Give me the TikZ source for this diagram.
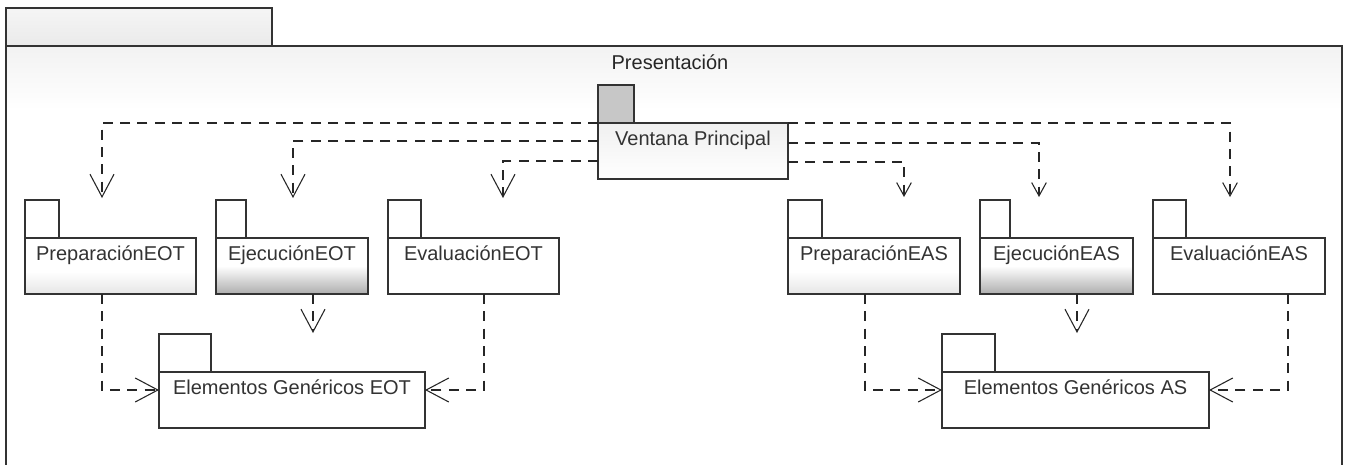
\documentclass[tikz,border=0pt]{standalone}
\usepackage{fontspec}
\setmainfont{Liberation Sans}
\usetikzlibrary{arrows.meta,calc}
\pgfdeclareverticalshading{pkgdark}{100bp}{color(0bp)=(black!32); color(25bp)=(black!32); color(50bp)=(white); color(100bp)=(white)}
\pgfdeclareverticalshading{pkglight}{100bp}{color(0bp)=(black!10); color(25bp)=(black!10); color(45bp)=(white); color(100bp)=(white)}
\tikzset{
  pkgline/.style={draw=black!80, line width=1.1pt},
  pkgbody/.style={pkgline, rectangle, inner sep=0pt, outer sep=0pt, text height=16.5pt, text depth=25.5pt, text=black!80},
  pkgtab/.style={pkgline, rectangle, inner sep=0pt, outer sep=0pt, fill=white, minimum height=28.5pt},
  lightshade/.style={shading=pkglight},
  darkshade/.style={shading=pkgdark},
  plain/.style={fill=white},
  dep/.style={draw=black!85, line width=0.8pt, dash pattern=on 7.5pt off 5.5pt},
  bigarr/.style={-{Straight Barb[length=17pt,width=18pt,line width=0.8pt]}},
  smallarr/.style={-{Straight Barb[length=10pt,width=11pt,line width=0.8pt]}}
}
\newcommand\pkgnode[7]{%
  \node[pkgbody,#7,minimum width=0.75*#4pt,anchor=north west] (#1) at (#2,#3) {#6};
  \node[pkgtab,minimum width=0.75*#5pt,anchor=south west] (#1-tab) at (#1.north west) {};}
\begin{document}
\begin{tikzpicture}[x=0.75pt,y=-0.75pt,font=\fontsize{15}{18}\selectfont]
\useasboundingbox (0,0) rectangle (1345,464);
\clip (0,0) rectangle (1345,464);
% outer package frame
\fill[white] (0,0) rectangle (1345,464);
\draw[pkgline, top color=black!4, bottom color=black!8] (6,8) rectangle (272,46);
\fill[top color=black!5, bottom color=white] (6,46) rectangle (1342,110);
\draw[pkgline] (6,46) rectangle (1342,480);
\node[anchor=base, text=black!85] (title) at (670,69) {Presentación};

% Ventana Principal
\node[pkgbody, top color=black!6, bottom color=white, minimum width=142.5pt, anchor=north west] (vp) at (598,123) {Ventana Principal};
\node[pkgtab, fill=black!22, minimum width=27pt, anchor=south west] (vp-tab) at (vp.north west) {};

% packages
\pkgnode{prepEOT}{25}{238}{171}{34}{PreparaciónEOT}{lightshade}
\pkgnode{ejEOT}{216}{238}{152}{30}{EjecuciónEOT}{darkshade}
\pkgnode{evEOT}{388}{238}{171}{33}{EvaluaciónEOT}{plain}
\pkgnode{geEOT}{159}{372}{266}{52}{Elementos Genéricos EOT}{plain}
\pkgnode{prepEAS}{788}{238}{172}{34}{PreparaciónEAS}{lightshade}
\pkgnode{ejEAS}{980}{238}{153}{30}{EjecuciónEAS}{darkshade}
\pkgnode{evEAS}{1153}{238}{172}{33}{EvaluaciónEAS}{plain}
\pkgnode{geAS}{942}{372}{267}{53}{Elementos Genéricos AS}{plain}

% arrow ends above packages
\coordinate (inPrepEOT) at (102,198);
\coordinate (inEjEOT) at (293,198);
\coordinate (inEvEOT) at (503,198);
\coordinate (inPrepEAS) at (904,197);
\coordinate (inEjEAS) at (1039,197);
\coordinate (inEvEAS) at (1230,197);

% from Ventana Principal
\draw[dep,bigarr] (vp.north west) -| (inPrepEOT);
\draw[dep,bigarr] ($(vp.north west)+(0,18)$) -| (inEjEOT);
\draw[dep,bigarr] ($(vp.north west)+(0,38)$) -| (inEvEOT);
\draw[dep,smallarr] (vp.north east) -| (inEvEAS);
\draw[dep,smallarr] ($(vp.north east)+(0,20)$) -| (inEjEAS);
\draw[dep,smallarr] ($(vp.north east)+(0,39)$) -| (inPrepEAS);

% to Elementos Genericos
\draw[dep,bigarr] ($(prepEOT.south west)+(77,0)$) |- ($(geEOT.north west)+(0,18)$);
\draw[dep,bigarr] ($(ejEOT.south west)+(97,0)$) -- ($(ejEOT.south west)+(97,39)$);
\draw[dep,bigarr] ($(evEOT.south west)+(96,0)$) |- ($(geEOT.north east)+(0,18)$);
\draw[dep,bigarr] ($(prepEAS.south west)+(77,0)$) |- ($(geAS.north west)+(0,18)$);
\draw[dep,bigarr] ($(ejEAS.south west)+(97,0)$) -- ($(ejEAS.south west)+(97,39)$);
\draw[dep,bigarr] ($(evEAS.south west)+(135,0)$) |- ($(geAS.north east)+(0,18)$);
\end{tikzpicture}
\end{document}
